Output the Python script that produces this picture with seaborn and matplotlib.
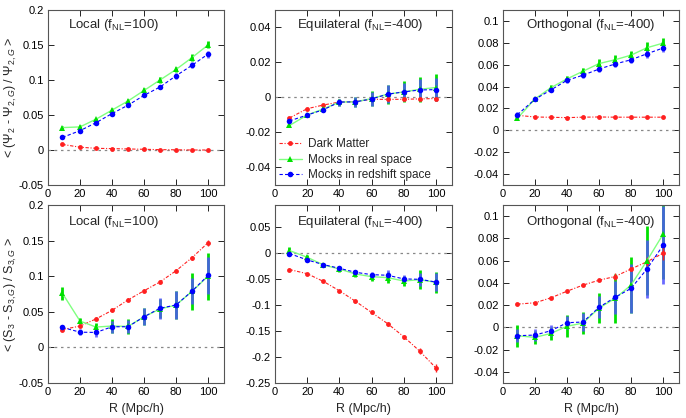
import numpy as np
import pandas as pd
import matplotlib
matplotlib.use("Agg")
import matplotlib.pyplot as plt
import seaborn as sns

R = [9, 20, 30, 40, 50, 60, 70, 80, 90, 100]

# Psi2 panels
loc_psi_dm = [0.008, 0.004, 0.0024, 0.002, 0.0015, 0.001, 0.0005, 0.0003, 0.0, 0.0]
loc_psi_real = [0.032, 0.033, 0.044, 0.057, 0.070, 0.085, 0.100, 0.115, 0.132, 0.150]
loc_psi_red = [0.018, 0.0276, 0.039, 0.052, 0.064, 0.078, 0.090, 0.106, 0.121, 0.137]
loc_psi_dm_err = [0.001] * 10
loc_psi_real_err = [0.002, 0.002, 0.002, 0.003, 0.003, 0.003, 0.004, 0.004, 0.005, 0.005]
loc_psi_red_err = [0.002, 0.002, 0.002, 0.002, 0.003, 0.003, 0.003, 0.004, 0.004, 0.005]

eq_psi_dm = [-0.0117, -0.0064, -0.0043, -0.0026, -0.0023, -0.001, -0.0011, -0.001, -0.0008, -0.0006]
eq_psi_real = [-0.016, -0.010, -0.0066, -0.0026, -0.0025, -0.0006, 0.0019, 0.0032, 0.0047, 0.0057]
eq_psi_red = [-0.0134, -0.010, -0.007, -0.0026, -0.0025, -0.0008, 0.0019, 0.0032, 0.0043, 0.0045]
eq_psi_dm_err = [0.0005] * 10
eq_psi_real_err = [0.001, 0.001, 0.0015, 0.002, 0.003, 0.0045, 0.0055, 0.006, 0.007, 0.0075]
eq_psi_red_err = [0.001, 0.001, 0.0015, 0.002, 0.003, 0.004, 0.005, 0.005, 0.006, 0.0065]

or_psi_dm = [0.0137, 0.0122, 0.0119, 0.0116, 0.012, 0.0122, 0.012, 0.012, 0.012, 0.012]
or_psi_real = [0.011, 0.0287, 0.039, 0.047, 0.054, 0.061, 0.0645, 0.0687, 0.0755, 0.0797]
or_psi_red = [0.0143, 0.0284, 0.037, 0.0457, 0.0504, 0.056, 0.0606, 0.0645, 0.070, 0.0752]
or_psi_dm_err = [0.0007] * 10
or_psi_real_err = [0.002, 0.002, 0.002, 0.003, 0.003, 0.004, 0.004, 0.004, 0.005, 0.005]
or_psi_red_err = [0.002, 0.002, 0.002, 0.002, 0.003, 0.003, 0.003, 0.003, 0.004, 0.004]

# S3 panels
loc_s3_dm = [0.025, 0.030, 0.040, 0.052, 0.0667, 0.0795, 0.092, 0.1076, 0.126, 0.147]
loc_s3_real = [0.076, 0.037, 0.0286, 0.030, 0.0295, 0.043, 0.054, 0.0595, 0.0786, 0.100]
loc_s3_red = [0.028, 0.0214, 0.021, 0.029, 0.029, 0.043, 0.055, 0.0595, 0.079, 0.101]
loc_s3_dm_err = [0.002, 0.002, 0.002, 0.002, 0.002, 0.002, 0.002, 0.002, 0.003, 0.004]
loc_s3_real_err = [0.009, 0.004, 0.006, 0.010, 0.010, 0.012, 0.0133, 0.020, 0.026, 0.033]
loc_s3_red_err = [0.004, 0.004, 0.006, 0.0086, 0.009, 0.012, 0.015, 0.020, 0.018, 0.026]

eq_s3_dm = [-0.032, -0.040, -0.0547, -0.0727, -0.093, -0.1145, -0.136, -0.161, -0.189, -0.221]
eq_s3_real = [0.0045, -0.0084, -0.023, -0.031, -0.0405, -0.0457, -0.0476, -0.054, -0.0515, -0.0566]
eq_s3_red = [-0.0013, -0.0135, -0.0225, -0.0296, -0.0373, -0.0418, -0.043, -0.050, -0.0508, -0.056]
eq_s3_dm_err = [0.002, 0.002, 0.002, 0.002, 0.003, 0.003, 0.004, 0.004, 0.006, 0.008]
eq_s3_real_err = [0.007, 0.004, 0.004, 0.006, 0.006, 0.008, 0.010, 0.010, 0.018, 0.020]
eq_s3_red_err = [0.003, 0.004, 0.004, 0.005, 0.005, 0.006, 0.010, 0.008, 0.012, 0.018]

or_s3_dm = [0.0209, 0.0221, 0.0266, 0.0325, 0.038, 0.0424, 0.0457, 0.0525, 0.059, 0.0666]
or_s3_real = [-0.0075, -0.009, -0.0054, 0.001, 0.0039, 0.0173, 0.026, 0.038, 0.060, 0.0836]
or_s3_red = [-0.0075, -0.0069, -0.003, 0.0042, 0.0048, 0.018, 0.027, 0.035, 0.0525, 0.0737]
or_s3_dm_err = [0.001, 0.001, 0.001, 0.001, 0.001, 0.001, 0.003, 0.002, 0.004, 0.006]
or_s3_real_err = [0.0097, 0.006, 0.006, 0.010, 0.010, 0.0135, 0.022, 0.025, 0.031, 0.040]
or_s3_red_err = [0.006, 0.005, 0.005, 0.006, 0.008, 0.010, 0.015, 0.022, 0.026, 0.035]

titles = [r"Local (f$_{\rm NL}$=100)", r"Equilateral (f$_{\rm NL}$=-400)", r"Orthogonal (f$_{\rm NL}$=-400)"]
legend_labels = ["Dark Matter", "Mocks in real space", "Mocks in redshift space"]
ylabel_top = r"< ($\Psi_2$ - $\Psi_{2,G}$) / $\Psi_{2,G}$ >"
ylabel_bot = r"< (S$_3$ - S$_{3,G}$) / S$_{3,G}$ >"
xlabel = "R (Mpc/h)"

panels = [
    (loc_psi_dm, loc_psi_dm_err, loc_psi_real, loc_psi_real_err, loc_psi_red, loc_psi_red_err, (-0.05, 0.2), [-0.05, 0, 0.05, 0.1, 0.15, 0.2], ["-0.05", "0", "0.05", "0.1", "0.15", "0.2"]),
    (eq_psi_dm, eq_psi_dm_err, eq_psi_real, eq_psi_real_err, eq_psi_red, eq_psi_red_err, (-0.05, 0.05), [-0.04, -0.02, 0, 0.02, 0.04], ["-0.04", "-0.02", "0", "0.02", "0.04"]),
    (or_psi_dm, or_psi_dm_err, or_psi_real, or_psi_real_err, or_psi_red, or_psi_red_err, (-0.05, 0.11), [-0.04, -0.02, 0, 0.02, 0.04, 0.06, 0.08, 0.1], ["-0.04", "-0.02", "0", "0.02", "0.04", "0.06", "0.08", "0.1"]),
    (loc_s3_dm, loc_s3_dm_err, loc_s3_real, loc_s3_real_err, loc_s3_red, loc_s3_red_err, (-0.05, 0.2), [-0.05, 0, 0.05, 0.1, 0.15, 0.2], ["-0.05", "0", "0.05", "0.1", "0.15", "0.2"]),
    (eq_s3_dm, eq_s3_dm_err, eq_s3_real, eq_s3_real_err, eq_s3_red, eq_s3_red_err, (-0.25, 0.092), [-0.25, -0.2, -0.15, -0.1, -0.05, 0, 0.05], ["-0.25", "-0.2", "-0.15", "-0.1", "-0.05", "0", "0.05"]),
    (or_s3_dm, or_s3_dm_err, or_s3_real, or_s3_real_err, or_s3_red, or_s3_red_err, (-0.05, 0.11), [-0.04, -0.02, 0, 0.02, 0.04, 0.06, 0.08, 0.1], ["-0.04", "-0.02", "0", "0.02", "0.04", "0.06", "0.08", "0.1"]),
]

sns.set_style("ticks")
plt.rcParams["font.family"] = ["Liberation Sans", "DejaVu Sans"]
plt.rcParams["mathtext.fontset"] = "custom"
plt.rcParams["mathtext.rm"] = "Liberation Sans"
plt.rcParams["mathtext.it"] = "Liberation Sans:italic"
plt.rcParams["mathtext.bf"] = "Liberation Sans:bold"

fig = plt.figure(figsize=(6.86, 4.18), dpi=100)
W, H = 686.0, 418.0
lefts = [48, 275, 503]
widths = [176, 177, 176]
rows = [(10, 185), (205, 383)]
title_x = [0.115, 0.124, 0.13]
title_y = [0.914, 0.905]

red_c = "#ff2020"
green_line = "#80ff80"
green_c = "#00e000"
blue_c = "#0000ff"
blue_err = "#5050ff"

for i, p in enumerate(panels):
    dm, dme, re_, ree, rs, rse, ylim, yt, ytl = p
    r, c = divmod(i, 3)
    top, bot = rows[r]
    ax = fig.add_axes([lefts[c] / W, 1 - bot / H, widths[c] / W, (bot - top) / H])
    ax.axhline(0, color="#888888", linestyle=(0, (2, 3)), linewidth=0.9, zorder=1)
    df = pd.DataFrame({"R": R, "dm": dm, "real": re_, "red": rs})
    ax.errorbar(R, re_, yerr=ree, fmt="none", ecolor=green_c, elinewidth=2.0, capsize=0, zorder=2)
    ax.errorbar(R, rs, yerr=rse, fmt="none", ecolor=blue_err, elinewidth=2.0, capsize=0, alpha=0.85, zorder=3)
    ax.errorbar(R, dm, yerr=dme, fmt="none", ecolor=red_c, elinewidth=1.0, capsize=0, zorder=4)
    sns.lineplot(data=df, x="R", y="dm", ax=ax, color=red_c, linestyle=(0, (3, 1.5, 1, 1.5)), linewidth=0.8,
                 marker="o", markersize=3.5, markeredgewidth=0, label=legend_labels[0] if i == 1 else None, zorder=5)
    sns.lineplot(data=df, x="R", y="real", ax=ax, color=green_line, linestyle="-", linewidth=1.0,
                 marker="^", markersize=4, markerfacecolor=green_c, markeredgewidth=0,
                 label=legend_labels[1] if i == 1 else None, zorder=5)
    sns.lineplot(data=df, x="R", y="red", ax=ax, color=blue_c, linestyle=(0, (3, 2)), linewidth=0.8,
                 marker="o", markersize=4, markeredgewidth=0, label=legend_labels[2] if i == 1 else None, zorder=6)
    ax.set_xlim(0, 110)
    ax.set_ylim(*ylim)
    ax.set_xticks([0, 20, 40, 60, 80, 100])
    ax.set_xticklabels(["0", "20", "40", "60", "80", "100"])
    ax.set_yticks(yt)
    ax.set_yticklabels(ytl)
    ax.tick_params(direction="in", top=True, right=True, length=4, width=0.6, labelsize=8, pad=3, colors="#000000")
    for s in ax.spines.values():
        s.set_visible(True)
        s.set_color("#555555")
        s.set_linewidth(0.8)
    ax.set_xlabel(xlabel if r == 1 else "", fontsize=9)
    ax.set_ylabel("", fontsize=9)
    if c == 0:
        ax.set_ylabel(ylabel_top if r == 0 else ylabel_bot, fontsize=9)
        ax.yaxis.set_label_coords((19 - lefts[0]) / widths[0], 0.5)
    ax.text(title_x[c], title_y[r], titles[c], transform=ax.transAxes, ha="left", va="center", fontsize=9.5)
    if i == 1:
        ax.legend(loc="lower left", frameon=False, fontsize=8.5, handlelength=2.0, handletextpad=0.5,
                  labelspacing=0.3, borderaxespad=0.1, borderpad=0.2, bbox_to_anchor=(0.0, 0.0))
    elif ax.get_legend() is not None:
        ax.get_legend().remove()

fig.savefig("out.png", dpi=100)
